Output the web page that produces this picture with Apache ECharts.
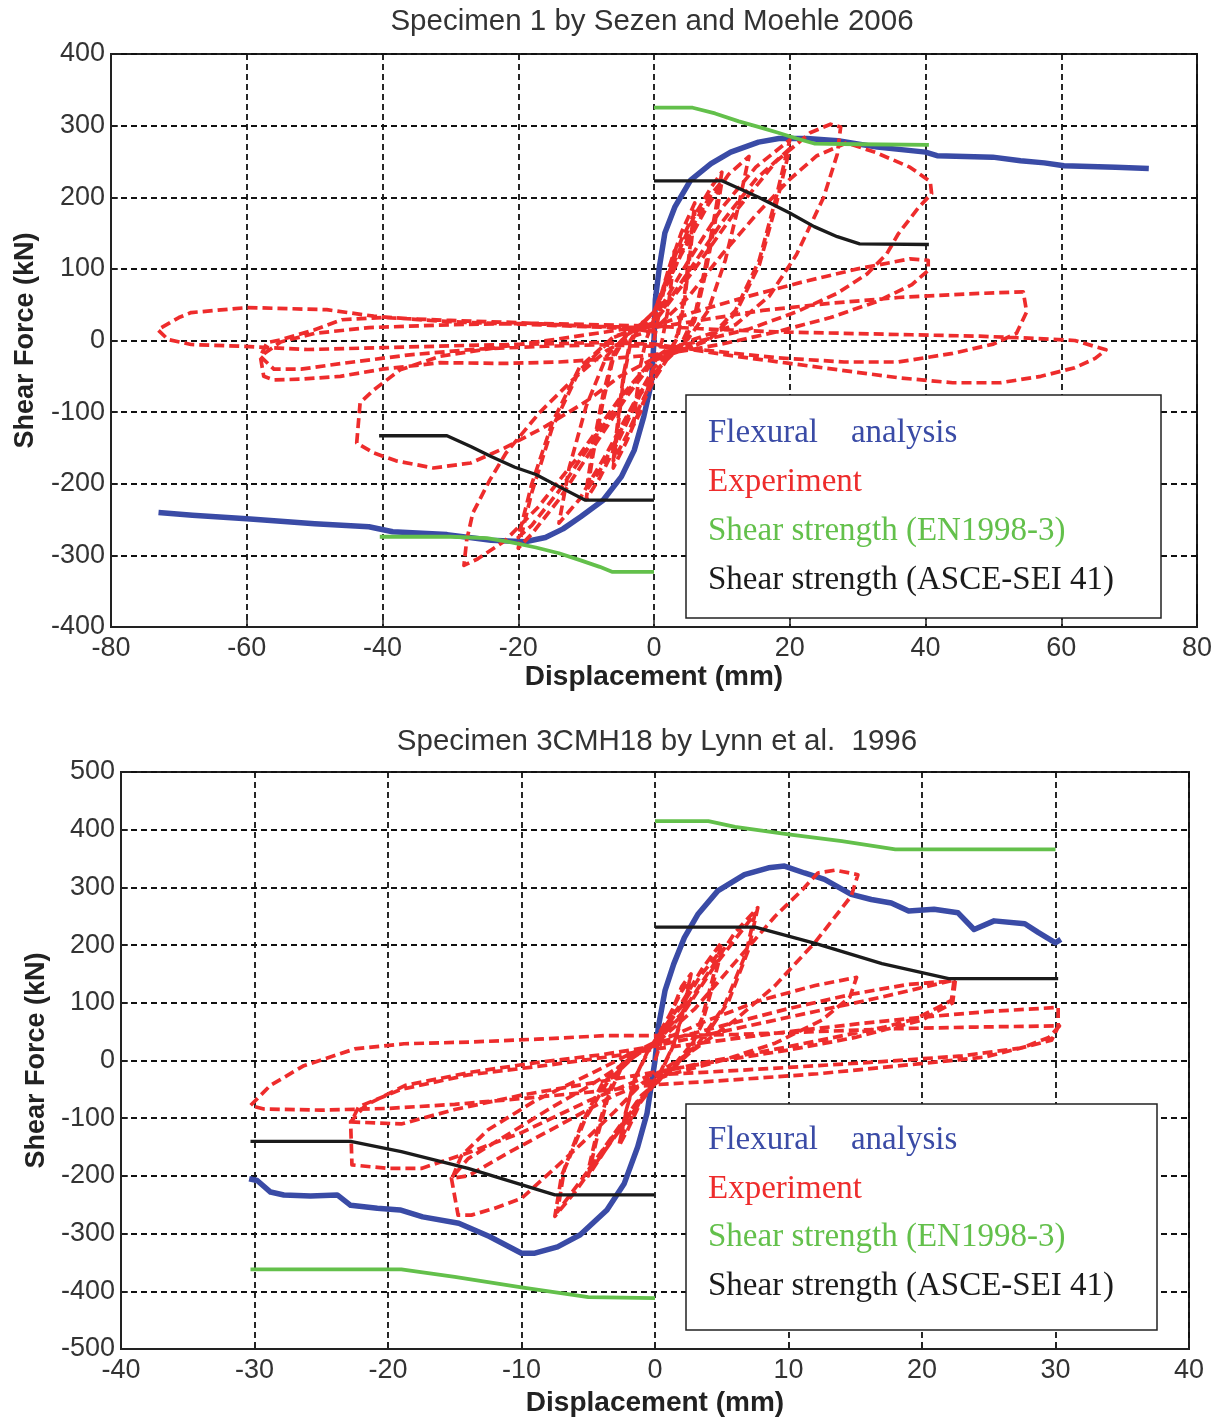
<!DOCTYPE html>
<html>
<head>
<meta charset="utf-8">
<title>Shear force - displacement</title>
<script src="https://cdn.jsdelivr.net/npm/echarts@6/dist/echarts.min.js"></script>
<style>
html,body{margin:0;padding:0;background:#fff;}
#main{width:1221px;height:1422px;}
</style>
</head>
<body>
<div id="main"></div>
<script>
// ---- Specimen 1 by Sezen and Moehle 2006 : [displacement mm, shear kN] ----
var s1Flexural = [[-73,-240],[-68,-244],[-60,-249],[-50,-256],[-42,-260],[-38.5,-267],[-30.5,-271],[-24,-279],[-19,-281],[-16,-275],[-13.4,-263],[-10.8,-246],[-7.5,-223],[-4.8,-190],[-2.9,-153],[-1.5,-106],[-0.4,-60],[0,0],[0.2,57],[0.8,103],[1.6,150],[3.1,187],[5.4,224],[8.4,247],[11.3,263],[15.4,277],[18.4,282],[22.5,282],[27.1,279],[32.9,270],[40,263],[41.7,258],[49.9,256],[54,251],[57.5,248],[60.4,244],[68,242],[72.9,240]];
var s1ShearECPos = [[0,325],[5.7,325],[9,317],[12.5,306],[15.5,298],[18.3,290],[21,282],[23.6,275],[30,274],[40.5,273]];
var s1ShearECNeg = [[-40.4,-274],[-30,-274],[-24.6,-276],[-21,-282],[-17.4,-289],[-14,-297],[-10.8,-307],[-8,-316],[-6.2,-323],[0,-323]];
var s1ShearASCEPos = [[0,223],[10,223],[15.4,200],[20,178],[23.6,159],[27,145],[30.3,135],[40.5,134]];
var s1ShearASCENeg = [[-40.5,-133],[-30.5,-133],[-27,-148],[-24,-162],[-20.5,-177],[-17.4,-187],[-14,-204],[-10.1,-223],[0,-223]];
var s1Cycles = [
  [[0,0],[1,50],[2,95],[3,125],[2.6,85],[2,40],[1.2,0],[0,-35],[-1,-70],[-2,-100],[-3,-118],[-2.6,-80],[-2,-35],[-1.2,0],[0,30]],
  [[0,30],[2,95],[4,150],[6,192],[5.3,130],[4.5,65],[3.5,10],[2,-25],[0,-55],[-2,-95],[-4,-140],[-6,-178],[-5.3,-120],[-4.5,-55],[-3.5,-5],[-2,22],[0,40]],
  [[0,40],[2,90],[4,140],[6,178],[5.3,120],[4.5,55],[3.5,5],[2,-22],[0,-50],[-2,-90],[-4,-132],[-6,-168],[-5.3,-110],[-4.5,-48],[-3.5,0],[-2,22],[0,40]],
  [[0,40],[3,110],[6,175],[8.5,215],[10,235],[9,178],[7.5,100],[6,35],[4,-5],[1,-35],[-2,-75],[-5,-135],[-8,-192],[-10,-222],[-9,-160],[-7.5,-85],[-6,-25],[-4,8],[-1,30],[0,40]],
  [[0,40],[3,100],[6,165],[8.5,205],[10,222],[9,165],[7.5,90],[6,28],[4,-8],[1,-35],[-2,-72],[-5,-128],[-8,-182],[-10,-210],[-9,-150],[-7.5,-75],[-6,-20],[-4,10],[-1,30],[0,40]],
  [[0,40],[4,120],[8,190],[11,232],[14,257],[12.5,190],[10.5,112],[8,42],[5,2],[2,-20],[0,-38],[-3,-88],[-7,-158],[-11,-222],[-14,-255],[-12.5,-178],[-10,-92],[-7,-22],[-4,8],[-1,24],[0,30]],
  [[0,30],[5,110],[10,185],[15,242],[20,280],[18,200],[15.5,112],[12,42],[8,2],[4,-14],[0,-28],[-4,-78],[-9,-150],[-14,-222],[-18,-270],[-20,-290],[-18,-212],[-15,-122],[-11,-42],[-6,4],[-2,18],[0,25]],
  [[0,25],[5,95],[10,165],[15,225],[20,268],[18,190],[15.5,105],[12,38],[8,0],[4,-14],[0,-26],[-4,-72],[-9,-140],[-14,-210],[-18,-258],[-20,-275],[-18,-200],[-15,-115],[-11,-38],[-6,5],[-2,18],[0,25]],
  [[0,25],[6,100],[12,180],[18,250],[23,290],[26,302],[27.5,298],[27,260],[25,200],[21,120],[17,62],[12,22],[6,2],[2,-14],[0,-24],[-5,-80],[-11,-160],[-17,-232],[-22,-280],[-26,-305],[-28,-314],[-27.6,-279],[-26.7,-241],[-24.2,-195],[-21.8,-157],[-16.9,-101],[-12,-55],[-7,-14],[-3,6],[0,15]],
  [[0,15],[5,60],[10,120],[15,175],[20,225],[24,258],[28.4,276],[32.8,262],[37.7,242],[40.7,222],[40.9,205],[39,186],[36,149],[34.3,121],[31.4,93],[27,66],[21,40],[14,16],[7,0],[2,-12],[0,-25],[-5,-50],[-10,-85],[-16,-120],[-22,-150],[-27,-171],[-32.5,-178],[-38,-168],[-41.3,-157],[-43.8,-143],[-43.3,-87],[-41.3,-69],[-37.4,-41],[-31.5,-22],[-21.8,-8],[-12,5],[-5,15],[0,20]],
  [[0,20],[6,40],[14,62],[22,82],[30,100],[37.7,114],[40.4,112],[40.4,98],[38,78],[33,55],[26,32],[18,12],[10,-5],[4,-15],[0,-20],[-6,-25],[-14,-30],[-22,-32],[-31.5,-31],[-40,-40],[-46.2,-50],[-52,-54],[-56,-55],[-57.5,-50],[-58,-22],[-57,-3],[-55,1],[-50,15],[-46,29],[-40,32],[-30,28],[-20,25],[-10,20],[0,18]],
  [[0,18],[8,30],[16,42],[26,52],[36,60],[46,65],[54.4,68],[54.9,40],[54,22],[53.4,10],[50,-5],[44,-18],[36,-30],[28,-30],[18,-24],[8,-14],[0,-8],[-8,-6],[-16,-8],[-26,-12],[-36,-20],[-46,-32],[-52,-40],[-56,-40],[-58,-22],[-55,-2],[-50,10],[-42,18],[-30,22],[-18,24],[-8,22],[0,20]],
  [[0,20],[8,16],[18,12],[28,10],[38,8],[48,6],[56,3],[62,0],[66.6,-13],[65,-25],[62,-38],[57,-50],[51,-59],[44,-59],[36,-52],[28,-42],[20,-32],[12,-22],[5,-12],[0,-5],[-8,-3],[-18,-5],[-28,-7],[-40,-10],[-51,-12.6],[-60.9,-8],[-68.2,-5.6],[-71.6,1.4],[-73.1,15],[-70,32],[-68.2,39],[-59.9,46],[-48.2,43],[-41.3,34],[-33,28],[-26.7,25],[-20,23],[-12,20],[-6,18],[-2.2,15],[0,12]]
];

// ---- Specimen 3CMH18 by Lynn et al. 1996 ----
var s2Flexural = [[-30.4,-205],[-29.8,-208],[-28.8,-228],[-27.8,-233],[-25.8,-235],[-23.8,-233],[-22.8,-251],[-20.8,-256],[-19.1,-259],[-17.4,-271],[-14.7,-282],[-12.4,-305],[-10,-334],[-9,-334],[-7.3,-323],[-5.6,-302],[-3.6,-259],[-2.3,-213],[-1.3,-150],[-0.6,-92],[0,0],[0.25,58],[0.75,121],[1.4,167],[2.2,213],[3.2,253],[4.7,294],[6.7,322],[8.5,334],[9.7,337],[11.2,325],[12.7,314],[14.7,288],[16.2,279],[17.7,273],[19,259],[20.9,262],[22.7,256],[23.9,227],[25.4,242],[27.7,237],[28.7,222],[30,204],[30.4,210]];
var s2ShearECPos = [[0,415],[4,415],[6,405],[10,392],[14,380],[18,366],[30,366]];
var s2ShearECNeg = [[-30.3,-362],[-19,-362],[-15,-375],[-10,-393],[-5,-410],[0,-412]];
var s2ShearASCEPos = [[0,231],[7.5,231],[12,203],[17,168],[22,142],[30.2,142]];
var s2ShearASCENeg = [[-30.3,-140],[-22.8,-140],[-19,-158],[-14,-187],[-7.5,-233],[0,-233]];
var s2Cycles = [
  [[0,0],[1,70],[2,128],[2.7,150],[2.2,92],[1.5,32],[0.5,-18],[-1,-68],[-2,-118],[-2.7,-148],[-2.2,-90],[-1.5,-30],[-0.5,18],[0,35]],
  [[0,35],[1,75],[2,120],[2.6,140],[2.1,85],[1.4,28],[0.4,-20],[-1,-65],[-2,-110],[-2.6,-138],[-2.1,-82],[-1.4,-25],[-0.4,20],[0,35]],
  [[0,35],[2,100],[3.5,158],[5,205],[4.3,140],[3.5,72],[2.5,22],[1,-20],[-1,-62],[-3,-130],[-5,-200],[-4.3,-130],[-3.5,-62],[-2.5,-12],[-1,18],[0,32]],
  [[0,32],[2,95],[3.5,150],[5,192],[4.3,128],[3.5,62],[2.5,15],[1,-22],[-1,-60],[-3,-125],[-5,-190],[-4.3,-120],[-3.5,-55],[-2.5,-8],[-1,20],[0,32]],
  [[0,32],[2,82],[4.5,170],[6,222],[7.7,265],[7,192],[5.5,102],[3.5,32],[1.5,-10],[0,-40],[-2,-100],[-4.5,-180],[-6,-228],[-7.5,-270],[-7,-200],[-5.5,-110],[-4,-42],[-2,5],[0,30]],
  [[0,30],[2,78],[4.5,165],[7.5,255],[6.8,185],[5.2,95],[3.2,28],[1.2,-12],[0,-38],[-2,-95],[-4.5,-175],[-7.3,-262],[-6.8,-190],[-5.2,-100],[-3.5,-35],[-1.5,8],[0,28]],
  [[0,28],[3,90],[6,170],[9,250],[11,295],[12.2,325],[13.5,330],[15.2,322],[14.7,285],[12,205],[9,130],[6,70],[3,20],[1,-10],[-1,-40],[-3,-88],[-6,-155],[-10,-239],[-12,-256],[-13.75,-268],[-14.75,-268],[-15.25,-204],[-14,-170],[-11,-128],[-8,-85],[-5,-45],[-2.5,-8],[-1,15],[0,30]],
  [[0,30],[4,70],[8,105],[12,130],[15.1,144],[14.6,110],[12.5,70],[9,30],[5,0],[1,-25],[-3,-60],[-7,-110],[-11,-160],[-14,-200],[-15.2,-204],[-14.5,-165],[-12.5,-120],[-9,-70],[-5,-25],[-2,10],[0,30]],
  [[0,30],[5,60],[10,90],[15,116],[19,132],[22.4,138],[22.2,104],[19.5,72],[17.2,58],[13,38],[8,15],[4,-2],[0,-22],[-5,-70],[-10,-125],[-14,-160],[-17.5,-187],[-20,-187],[-22.7,-181],[-22.8,-106],[-21.7,-78],[-18.7,-43],[-13.7,-20],[-8.7,-3],[-4,10],[0,25]],
  [[0,25],[6,55],[12,85],[17,110],[22.5,140],[22.3,100],[20,70],[15,40],[10,18],[5,0],[0,-20],[-5,-40],[-10,-60],[-15,-85],[-19,-110],[-22.75,-106.5],[-22.2,-80],[-19,-50],[-14,-25],[-8,-8],[-3,8],[0,20]],
  [[0,20],[5,35],[10,50],[15,63],[20,75],[25,85],[30.2,92],[30.2,58],[29.7,35],[24.7,6],[19.7,-6],[12.2,-23],[5,-35],[0,-42],[-5,-55],[-10,-66],[-15,-76],[-20,-83],[-25,-86],[-29.3,-84],[-30.3,-78],[-28.8,-43],[-26.3,-9],[-22.5,20],[-18.8,29],[-13.8,32],[-8.8,37],[-3.8,43],[0,43]],
  [[0,43],[6,45],[12,50],[18,55],[24,58],[30.3,60],[29.5,40],[27.5,22],[23,8],[17,-2],[10,-12],[4,-20],[0,-25]]
];

var legendNames = ['Flexural    analysis', 'Experiment', 'Shear strength (EN1998-3)', 'Shear strength (ASCE-SEI 41)'];

var BLUE = '#3a4ba6', RED = '#ee2c2c', GREEN = '#63c04b', BLACK = '#1b1b1b';
var SANS = '"Liberation Sans", Arial, sans-serif';
var SERIF = '"Liberation Serif", "Times New Roman", serif';
var legendColors = [BLUE, RED, GREEN, BLACK];

function flatten(cycles) {
  var out = [];
  cycles.forEach(function (c) { out = out.concat(c); });
  return out;
}

function xAxisOf(gi, min, max, step, gap) {
  return {
    type: 'value', gridIndex: gi, min: min, max: max, interval: step,
    name: 'Displacement (mm)', nameLocation: 'middle', nameGap: gap,
    nameTextStyle: {fontFamily: SANS, fontSize: 28, fontWeight: 'bold', color: '#222'},
    axisLine: {onZero: false, lineStyle: {color: '#222', width: 2}},
    axisTick: {inside: true, length: 7, lineStyle: {color: '#222', width: 1.5}},
    axisLabel: {color: '#333', fontFamily: SANS, fontSize: 27, margin: 8, showMinLabel: true, showMaxLabel: true},
    splitLine: {show: true, lineStyle: {color: '#111', width: 1.8, type: [6, 4]}}
  };
}
function yAxisOf(gi, min, max, step, gap) {
  return {
    type: 'value', gridIndex: gi, min: min, max: max, interval: step,
    name: 'Shear Force (kN)', nameLocation: 'middle', nameGap: gap,
    nameTextStyle: {fontFamily: SANS, fontSize: 27, fontWeight: 'bold', color: '#222'},
    axisLine: {onZero: false, lineStyle: {color: '#222', width: 2}},
    axisTick: {inside: true, length: 7, lineStyle: {color: '#222', width: 1.5}},
    axisLabel: {color: '#333', fontFamily: SANS, fontSize: 27, margin: 6, showMinLabel: true, showMaxLabel: true},
    splitLine: {show: true, lineStyle: {color: '#111', width: 1.8, type: [6, 4]}}
  };
}
function lineSeries(idx, data, color, width, dash, z) {
  return {
    type: 'line', xAxisIndex: idx, yAxisIndex: idx, data: data,
    showSymbol: false, symbol: 'none', animation: false, silent: true, z: z,
    lineStyle: {color: color, width: width, type: dash || 'solid', cap: 'butt', join: 'round'}
  };
}
function legendBox(x, y, w, h, rows) {
  var els = [{type: 'rect', shape: {x: x, y: y, width: w, height: h},
    style: {fill: '#fff', stroke: '#222', lineWidth: 1.5}, z: 100}];
  legendNames.forEach(function (t, i) {
    els.push({type: 'text', z: 101, x: x + 22, y: rows[i],
      style: {text: t, fill: legendColors[i], font: '33px ' + SERIF,
        verticalAlign: 'middle', textVerticalAlign: 'middle', align: 'left'}});
  });
  return els;
}

var chart = echarts.init(document.getElementById('main'));
chart.setOption({
  backgroundColor: '#fff',
  animation: false,
  title: [
    {text: 'Specimen 1 by Sezen and Moehle 2006', left: 652, top: 7, padding: 0, textAlign: 'center',
      textStyle: {fontFamily: SANS, fontSize: 29.5, fontWeight: 'normal', color: '#333'}},
    {text: 'Specimen 3CMH18 by Lynn et al.  1996', left: 657, top: 727, padding: 0, textAlign: 'center',
      textStyle: {fontFamily: SANS, fontSize: 29.5, fontWeight: 'normal', color: '#333'}}
  ],
  grid: [
    {left: 111, top: 54, width: 1086, height: 573, show: true, borderColor: '#222', borderWidth: 2, backgroundColor: 'transparent'},
    {left: 121, top: 772, width: 1068, height: 577, show: true, borderColor: '#222', borderWidth: 2, backgroundColor: 'transparent'}
  ],
  xAxis: [xAxisOf(0, -80, 80, 20, 35), xAxisOf(1, -40, 40, 10, 40)],
  yAxis: [yAxisOf(0, -400, 400, 100, 72), yAxisOf(1, -500, 500, 100, 70)],
  series: [
    lineSeries(0, s1Flexural, BLUE, 5.5, null, 2),
    lineSeries(0, flatten(s1Cycles), RED, 3.7, [10, 5], 3),
    lineSeries(0, s1ShearECPos, GREEN, 3.8, null, 4),
    lineSeries(0, s1ShearECNeg, GREEN, 3.8, null, 4),
    lineSeries(0, s1ShearASCEPos, BLACK, 3.3, null, 5),
    lineSeries(0, s1ShearASCENeg, BLACK, 3.3, null, 5),
    lineSeries(1, s2Flexural, BLUE, 5.5, null, 2),
    lineSeries(1, flatten(s2Cycles), RED, 3.7, [10, 5], 3),
    lineSeries(1, s2ShearECPos, GREEN, 3.8, null, 4),
    lineSeries(1, s2ShearECNeg, GREEN, 3.8, null, 4),
    lineSeries(1, s2ShearASCEPos, BLACK, 3.3, null, 5),
    lineSeries(1, s2ShearASCENeg, BLACK, 3.3, null, 5)
  ],
  graphic: legendBox(686, 395, 475, 223, [433, 482, 531, 580])
    .concat(legendBox(686, 1104, 471, 226, [1140, 1189, 1237, 1286]))
});
</script>
</body>
</html>
